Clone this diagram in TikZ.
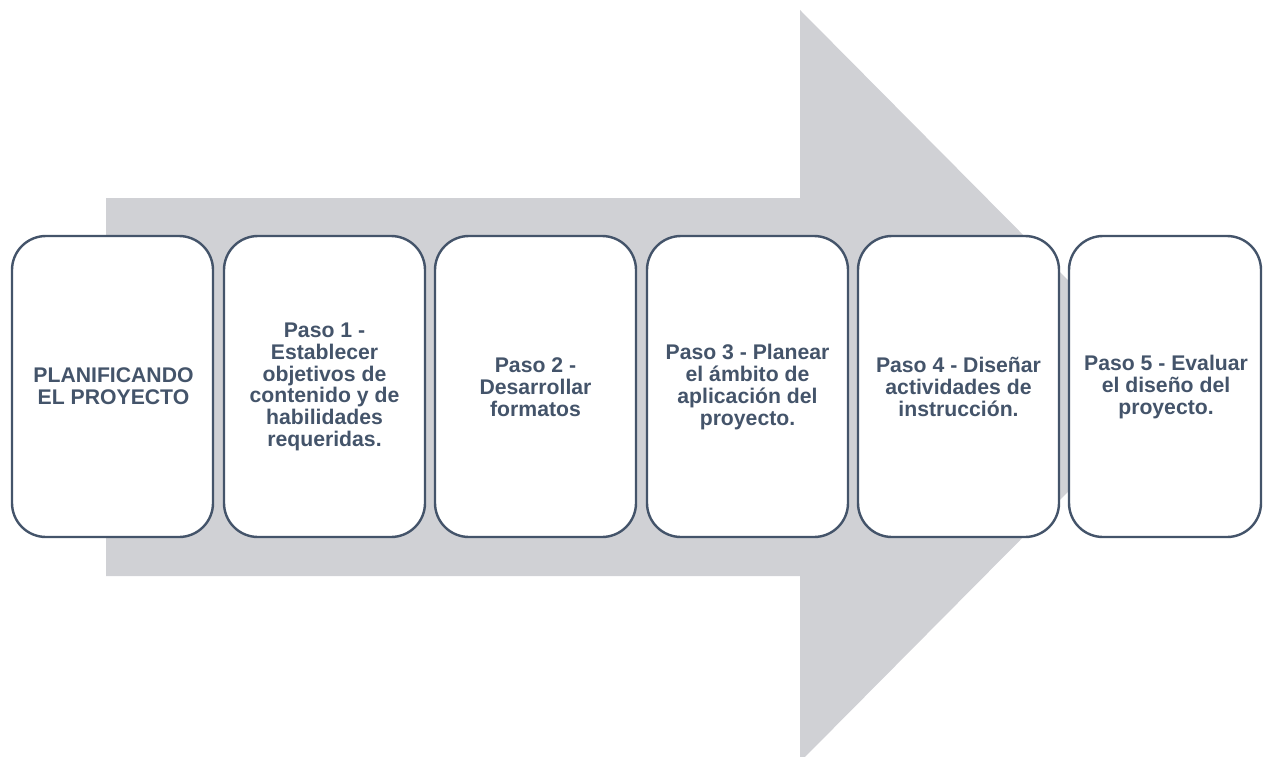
\documentclass[tikz,border=0pt]{standalone}
\usepackage{fontspec}
\setmainfont{Liberation Sans}
\definecolor{arrowgray}{HTML}{D0D1D5}
\definecolor{slate}{HTML}{44546A}
\begin{document}
\begin{tikzpicture}[x=1pt,y=-1pt,
  stepbox/.style={draw=slate, line width=2.4pt, fill=white, rounded corners=34pt},
  steptext/.style={text=slate, font=\fontsize{21.2}{21.8}\selectfont\bfseries, align=center, inner sep=0pt}]
\useasboundingbox (0,0) rectangle (1263,757);
% big arrow
\fill[arrowgray] (106,198) -- (800,198) -- (800,10) -- (1173,386) -- (800,762) -- (800,576) -- (106,576) -- cycle;
% boxes
\foreach \i/\x/\w in {1/12/201,2/224/201,3/435/201,4/647/201,5/858/201,6/1069/192}{
  \draw[stepbox] (\x,236) rectangle ++(\w,301);
  \coordinate (c\i) at (\x+\w/2,386);
}
\node[steptext] (t1) at ([xshift=1pt]c1) {PLANIFICANDO\\EL PROYECTO};
\node[steptext] (t2) at ([yshift=-1pt]c2) {Paso 1 -\\Establecer\\objetivos de\\contenido y de\\habilidades\\requeridas.};
\node[steptext] (t3) at ([yshift=-1pt]c3) {Paso 2 -\\Desarrollar\\formatos};
\node[steptext] (t4) at ([yshift=-1pt]c4) {Paso 3 - Planear\\el ámbito de\\aplicación del\\proyecto.};
\node[steptext] (t5) at ([yshift=-1pt]c5) {Paso 4 - Diseñar\\actividades de\\instrucción.};
\node[steptext] (t6) at ([yshift=-1pt,xshift=1pt]c6) {Paso 5 - Evaluar\\el diseño del\\proyecto.};
\end{tikzpicture}
\end{document}
